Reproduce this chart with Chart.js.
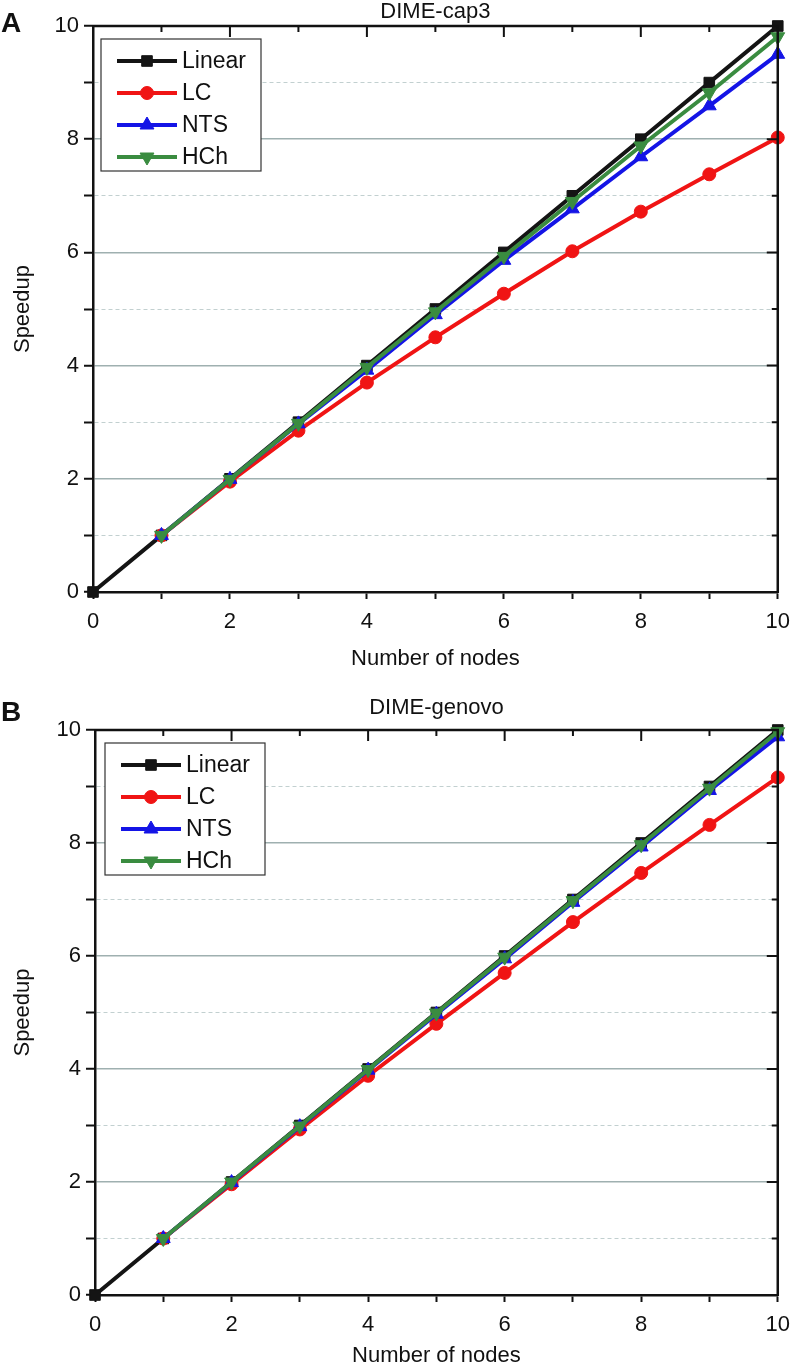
<!DOCTYPE html>
<html>
<head>
<meta charset="utf-8">
<title>DIME speedup</title>
<script src="https://cdn.jsdelivr.net/npm/chart.js@4/dist/chart.umd.min.js"></script>
<style>
    html, body { margin: 0; padding: 0; background: #ffffff; }
    .panel { position: absolute; left: 0; width: 800px; }
    #panelA { top: 0; height: 680px; }
    #panelB { top: 680px; height: 689px; }
</style>
</head>
<body>
<div class="panel" id="panelA"><canvas id="chartA"></canvas></div>
<div class="panel" id="panelB"><canvas id="chartB"></canvas></div>

<script>
// Anzahl Knoten (x-Achse) und Achsenbeschriftungen
const nodes = [0, 1, 2, 3, 4, 5, 6, 7, 8, 9, 10];
const seriesNames = ["Linear", "LC", "NTS", "HCh"];
const xTickLabels = [0, 2, 4, 6, 8, 10];
const yTickLabels = [0, 2, 4, 6, 8, 10];

// Panel A: DIME-cap3
const capLinear = [0, 1, 2, 3, 4, 5, 6, 7, 8, 9, 10];
const capLC     = [null, 1, 1.95, 2.85, 3.7, 4.5, 5.27, 6.02, 6.72, 7.38, 8.03];
const capNTS    = [null, 1, 1.99, 2.97, 3.92, 4.9, 5.86, 6.77, 7.69, 8.59, 9.5];
const capHCh    = [null, 1, 1.99, 2.98, 3.97, 4.95, 5.93, 6.9, 7.88, 8.82, 9.81];

// Panel B: DIME-genovo
const genLinear = [0, 1, 2, 3, 4, 5, 6, 7, 8, 9, 10];
const genLC     = [null, 1, 1.96, 2.93, 3.88, 4.8, 5.7, 6.6, 7.47, 8.32, 9.16];
const genNTS    = [null, 1, 1.99, 2.98, 3.98, 4.97, 5.95, 6.95, 7.93, 8.93, 9.88];
const genHCh    = [null, 1, 2, 2.99, 3.99, 4.99, 5.98, 6.98, 7.97, 8.97, 9.97];

const FONT = "'Liberation Sans', Arial, sans-serif";

// Linienstile je Serie: Farbe, Punktform, Rotation
const styles = [
    { color: "#141414", point: "rect", radius: 7.5, rotation: 0, order: 4 },
    { color: "#f01414", point: "circle", radius: 6.5, rotation: 0, order: 3 },
    { color: "#1414e6", point: "triangle", radius: 8, rotation: 0, order: 2 },
    { color: "#3a8c40", point: "triangle", radius: 8, rotation: 180, order: 1 }
];

// Rahmen oben/rechts mit Innen-Ticks, Titel, Buchstabe und Legende
const framePlugin = {
    id: "frame",
    afterDraw(chart, args, opts) {
        const ctx = chart.ctx;
        const area = chart.chartArea;
        const xs = chart.scales.x;
        const ys = chart.scales.y;
        ctx.save();
        ctx.strokeStyle = "#111111";
        ctx.lineWidth = 2.5;
        ctx.beginPath();
        ctx.moveTo(area.left - 1, area.top);
        ctx.lineTo(area.right, area.top);
        ctx.lineTo(area.right, area.bottom + 1);
        ctx.stroke();

        ctx.lineWidth = 2;
        ctx.beginPath();
        for (let v = 1; v < 10; v++) {
            const len = v % 2 === 0 ? 11 : 6;
            const px = xs.getPixelForValue(v);
            ctx.moveTo(px, area.top);
            ctx.lineTo(px, area.top + len);
            const py = ys.getPixelForValue(v);
            ctx.moveTo(area.right, py);
            ctx.lineTo(area.right - len, py);
        }
        ctx.stroke();

        // Titel und Panel-Buchstabe
        ctx.fillStyle = "#111111";
        ctx.textAlign = "center";
        ctx.textBaseline = "middle";
        ctx.font = "22px " + FONT;
        ctx.fillText(opts.title, (area.left + area.right) / 2, area.top - opts.titleGap);
        ctx.textAlign = "left";
        ctx.font = "bold 28px " + FONT;
        ctx.fillText(opts.letter, 1, opts.letterY);

        // Legende mit Rahmen
        const bx = area.left + opts.legendDx;
        const by = area.top + 13;
        const bw = 160;
        const bh = 132;
        ctx.fillStyle = "#ffffff";
        ctx.fillRect(bx, by, bw, bh);
        ctx.strokeStyle = "#333333";
        ctx.lineWidth = 1.2;
        ctx.strokeRect(bx, by, bw, bh);
        chart.data.datasets.forEach((ds, i) => {
            const y = by + 22 + i * 32;
            ctx.strokeStyle = ds.borderColor;
            ctx.lineWidth = 4;
            ctx.beginPath();
            ctx.moveTo(bx + 16, y);
            ctx.lineTo(bx + 76, y);
            ctx.stroke();
            ctx.fillStyle = ds.pointBackgroundColor;
            ctx.strokeStyle = ds.pointBackgroundColor;
            ctx.lineWidth = 1;
            Chart.helpers.drawPoint(ctx, {
                pointStyle: ds.pointStyle,
                radius: ds.pointRadius,
                rotation: ds.pointRotation,
                borderWidth: 1
            }, bx + 46, y);
            ctx.fillStyle = "#111111";
            ctx.font = "23px " + FONT;
            ctx.textAlign = "left";
            ctx.textBaseline = "middle";
            ctx.fillText(ds.label, bx + 81, y + 1);
        });
        ctx.restore();
    }
};

function buildDatasets(seriesValues) {
    return seriesValues.map((values, i) => ({
        label: seriesNames[i],
        data: nodes.map((n, k) => ({ x: n, y: values[k] })),
        borderColor: styles[i].color,
        backgroundColor: styles[i].color,
        pointBackgroundColor: styles[i].color,
        pointBorderColor: styles[i].color,
        pointStyle: styles[i].point,
        pointRadius: styles[i].radius,
        pointRotation: styles[i].rotation,
        pointBorderWidth: 1,
        borderWidth: 4,
        tension: 0,
        clip: false,
        order: styles[i].order
    }));
}

/**
 * Erstellt ein Speedup-Diagramm
 * @param {string} canvasId
 * @param {Array} seriesValues - Werte je Serie
 * @param {object} frame - Titel, Buchstabe und Positionen
 */
function createSpeedupChart(canvasId, seriesValues, frame) {
    const canvas = document.getElementById(canvasId);
    return new Chart(canvas, {
        type: "line",
        data: { datasets: buildDatasets(seriesValues) },
        options: {
            responsive: true,
            maintainAspectRatio: false,
            animation: false,
            layout: { padding: { top: frame.plotTop, right: 13, left: 0, bottom: 0 } },
            plugins: {
                legend: { display: false },
                tooltip: { enabled: false },
                frame: frame
            },
            scales: {
                x: {
                    type: "linear",
                    min: 0,
                    max: 10,
                    afterFit: (s) => { s.height = frame.xHeight; },
                    ticks: {
                        stepSize: 1,
                        autoSkip: false,
                        maxRotation: 0,
                        padding: 10,
                        color: "#111111",
                        font: { size: 22, family: FONT },
                        callback: (v) => xTickLabels.includes(v) ? String(v) : ""
                    },
                    grid: {
                        drawOnChartArea: false,
                        drawTicks: true,
                        tickLength: 7,
                        tickWidth: 2,
                        tickColor: "#111111"
                    },
                    border: { display: true, color: "#111111", width: 2.5 },
                    title: {
                        display: true,
                        text: "Number of nodes",
                        color: "#111111",
                        font: { size: 22, family: FONT },
                        padding: { top: 0, bottom: frame.xTitlePad }
                    }
                },
                y: {
                    type: "linear",
                    min: 0,
                    max: 10,
                    afterFit: (s) => { s.width = frame.plotLeft; },
                    ticks: {
                        stepSize: 1,
                        autoSkip: false,
                        padding: 5,
                        color: "#111111",
                        font: { size: 22, family: FONT },
                        callback: (v) => yTickLabels.includes(v) ? String(v) : ""
                    },
                    grid: {
                        drawOnChartArea: true,
                        drawTicks: true,
                        tickLength: 9,
                        tickWidth: 2,
                        tickColor: "#111111",
                        lineWidth: (c) => (c.tick && c.tick.value % 2 === 0) ? 1.5 : 1,
                        color: (c) => {
                            if (!c.tick || c.tick.value === 0 || c.tick.value === 10) return "rgba(0,0,0,0)";
                            return c.tick.value % 2 === 0 ? "#9fb0b0" : "#c2d0d0";
                        }
                    },
                    border: {
                        display: true,
                        color: "#111111",
                        width: 2.5,
                        dash: (c) => (c.tick && c.tick.value % 2 === 1) ? [4, 3] : []
                    },
                    title: {
                        display: true,
                        text: "Speedup",
                        color: "#111111",
                        font: { size: 22, family: FONT },
                        padding: { top: 10, bottom: 0 }
                    }
                }
            }
        },
        plugins: [framePlugin]
    });
}

createSpeedupChart("chartA", [capLinear, capLC, capNTS, capHCh], {
    title: "DIME-cap3",
    letter: "A",
    letterY: 24,
    titleGap: 14,
    plotTop: 26,
    plotLeft: 93,
    xHeight: 88,
    xTitlePad: 8,
    legendDx: 8
});

createSpeedupChart("chartB", [genLinear, genLC, genNTS, genHCh], {
    title: "DIME-genovo",
    letter: "B",
    letterY: 33,
    titleGap: 22,
    plotTop: 50,
    plotLeft: 95,
    xHeight: 74,
    xTitlePad: 0,
    legendDx: 10
});
</script>
</body>
</html>
